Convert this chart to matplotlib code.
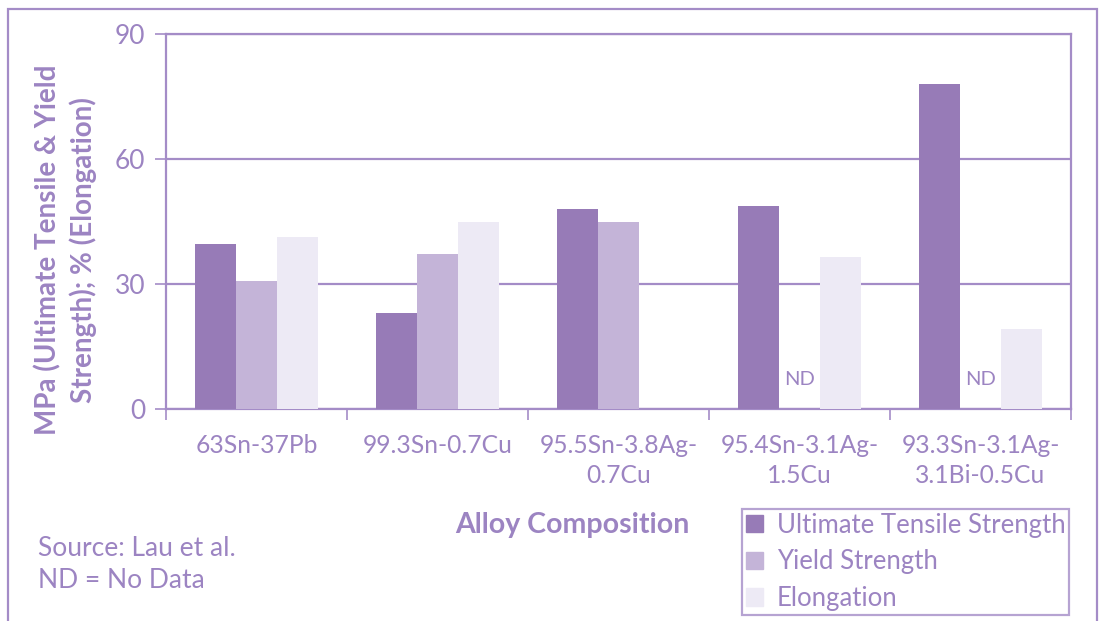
import numpy as np
import matplotlib
matplotlib.use('Agg')
import matplotlib.pyplot as plt
from matplotlib.patches import Rectangle, Patch

plt.rcParams['font.family'] = ['Lato', 'DejaVu Sans']

# data
alloys = ['63Sn-37Pb', '99.3Sn-0.7Cu', '95.5Sn-3.8Ag-\n0.7Cu', '95.4Sn-3.1Ag-\n1.5Cu', '93.3Sn-3.1Ag-\n3.1Bi-0.5Cu']
uts = [39.6, 23.0, 48.0, 48.7, 78.0]
yield_str = [30.7, 37.2, 44.9, np.nan, np.nan]
elong = [41.3, 44.9, np.nan, 36.5, 19.2]
series_names = ['Ultimate Tensile Strength', 'Yield Strength', 'Elongation']
yticks = [0, 30, 60, 90]

c_uts = '#977bb7'
c_yld = '#c4b4d8'
c_elo = '#edeaf5'
txt = '#9c84c2'
line = '#a48cc7'

fig = plt.figure(figsize=(11.02, 6.21), dpi=100)
ax = fig.add_axes([166/1102, 212/621, 905/1102, 375/621])

x = np.arange(len(alloys))
w = 0.226
ax.bar(x - w, uts, w, color=c_uts, zorder=3)
ax.bar(x, yield_str, w, color=c_yld, zorder=3)
ax.bar(x + w, elong, w, color=c_elo, zorder=3)

# ND markers where yield strength is missing
for i, v in enumerate(yield_str):
    if np.isnan(v):
        ax.text(x[i], 7, 'ND', ha='center', va='center', color=txt, fontsize=14.5, zorder=4)

ax.set_xlim(-0.5, len(alloys) - 0.5)
ax.set_ylim(0, 90)
ax.set_yticks(yticks)
ax.set_yticklabels([str(t) for t in yticks], color=txt, fontsize=19)
ax.yaxis.grid(True, color=line, linewidth=1.6, zorder=0)
ax.tick_params(axis='y', length=8, width=1.2, color=line, pad=7)

ax.set_xticks(x)
ax.set_xticklabels(alloys, color=txt, fontsize=17.7, linespacing=1.38)
ax.set_xticks(np.arange(len(alloys) + 1) - 0.5, minor=True)
ax.tick_params(axis='x', which='major', length=0, pad=18)
ax.tick_params(axis='x', which='minor', length=8, width=1.2, color=line)

for s in ax.spines.values():
    s.set_color(line)
    s.set_linewidth(1.6)

fig.text(572/1102, 1 - 525/621, 'Alloy Composition', ha='center', va='center',
         color=txt, fontsize=20.5, fontweight='bold')
fig.text(66/1102, 1 - 250/621, 'MPa (Ultimate Tensile & Yield\nStrength); % (Elongation)',
         ha='center', va='center', rotation=90, multialignment='center',
         color=txt, fontsize=20, fontweight='bold', linespacing=1.35)

fig.text(38/1102, 1 - 548/621, 'Source: Lau et al.', ha='left', va='center', color=txt, fontsize=19)
fig.text(38/1102, 1 - 581/621, 'ND = No Data', ha='left', va='center', color=txt, fontsize=19)

handles = [Patch(color=c) for c in (c_uts, c_yld, c_elo)]
leg = fig.legend(handles, series_names, loc='upper left',
                 bbox_to_anchor=(742/1102, 1 - 509/621), borderaxespad=0, frameon=True,
                 fancybox=False, fontsize=18.5, handlelength=0.65, handleheight=0.65,
                 handletextpad=0.55, labelspacing=0.45, borderpad=0.15, labelcolor=txt)
leg.get_frame().set_edgecolor(line)
leg.get_frame().set_linewidth(1.6)

# outer frame of the figure
fig.patches.append(Rectangle((8/1102, -0.05), 1089/1102, 1.05 - 9/621, transform=fig.transFigure,
                             fill=False, edgecolor=line, linewidth=1.6))

fig.savefig('out.png', dpi=100)
